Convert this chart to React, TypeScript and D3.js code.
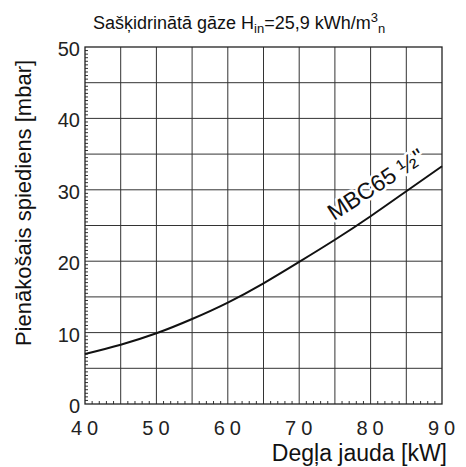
import { line, range, scaleLinear, curveNatural } from 'd3';

const power = [40, 45, 50, 55, 60, 65, 70, 75, 80, 85, 90];
const pressure = [7.0, 8.3, 9.9, 11.9, 14.2, 16.9, 19.9, 23.0, 26.3, 29.8, 33.3];
const xTicks = [40, 50, 60, 70, 80, 90];
const yTicks = [0, 10, 20, 30, 40, 50];
const seriesName = 'MBC65 ½"';

export default function App() {
  const width = 466;
  const height = 467;
  const margin = { top: 47, right: 24, bottom: 63, left: 85 };
  const font = "'Liberation Sans', Arial, Helvetica, sans-serif";

  const x = scaleLinear()
    .domain([40, 90])
    .range([margin.left, width - margin.right]);
  const y = scaleLinear()
    .domain([0, 50])
    .range([height - margin.bottom, margin.top]);

  const pts = power.map((p, i) => [p, pressure[i]] as [number, number]);
  const path = line<[number, number]>()
    .x((d) => x(d[0]))
    .y((d) => y(d[1]))
    .curve(curveNatural)(pts);

  const gridX = range(45, 90, 5);
  const gridY = range(5, 50, 5);
  const minorX = range(41, 90, 1).filter((v) => v % 5 !== 0);
  const minorY = range(0.5, 50, 0.5).filter((v) => v % 5 !== 0);

  // label sits above the curve near 74 kW
  const lx = x(74.3) + 4;
  const ly = y(22.4) - 23;

  return (
    <svg
      width={width}
      height={height}
      style={{ position: 'absolute', left: 0, top: 0, background: '#fff' }}
      fontFamily={font}>
      <text x={93} y={29} fontSize={18} fill='#111'>
        Sašķidrinātā gāze H
        <tspan fontSize={13} dy={4}>in</tspan>
        <tspan dy={-4}>=25,9 kWh/m</tspan>
        <tspan fontSize={13} dy={-7}>3</tspan>
        <tspan fontSize={13} dy={11}>n</tspan>
      </text>

      <g stroke='#333' strokeWidth={1}>
        {gridX.map((v) => (
          <line key={'gx' + v} x1={x(v)} x2={x(v)} y1={y(0)} y2={y(50)} />
        ))}
        {gridY.map((v) => (
          <line key={'gy' + v} y1={y(v)} y2={y(v)} x1={x(40)} x2={x(90)} />
        ))}
        {minorX.map((v) => (
          <line key={'mx' + v} x1={x(v)} x2={x(v)} y1={y(0)} y2={y(0) - 3} />
        ))}
        {minorY.map((v) => (
          <line key={'my' + v} y1={y(v)} y2={y(v)} x1={x(40)} x2={x(40) + 3} />
        ))}
      </g>
      <rect
        x={x(40)}
        y={y(50)}
        width={x(90) - x(40)}
        height={y(0) - y(50)}
        fill='none'
        stroke='#222'
        strokeWidth={1.3}
      />

      <path d={path ?? ''} fill='none' stroke='#111' strokeWidth={2} />

      <text
        transform={`translate(${lx},${ly}) rotate(-33)`}
        fontSize={23}
        fill='#111'
        stroke='#fff'
        strokeWidth={5}
        paintOrder='stroke'
        strokeLinejoin='round'>
        {seriesName}
      </text>

      {yTicks.map((v) => (
        <text
          key={'yl' + v}
          x={80}
          y={y(v) + 9}
          fontSize={20}
          textAnchor='end'
          fill='#222'>
          {v}
        </text>
      ))}
      {xTicks.map((v) => (
        <text
          key={'xl' + v}
          x={x(v) + 2}
          y={435}
          fontSize={20}
          letterSpacing={5}
          textAnchor='middle'
          fill='#222'>
          {v}
        </text>
      ))}

      <text x={447} y={461} fontSize={23} textAnchor='end' fill='#111'>
        Degļa jauda [kW]
      </text>
      <text
        transform={`translate(31,203) rotate(-90)`}
        fontSize={22}
        textAnchor='middle'
        fill='#111'>
        Pienākošais spiediens [mbar]
      </text>
    </svg>
  );
}
